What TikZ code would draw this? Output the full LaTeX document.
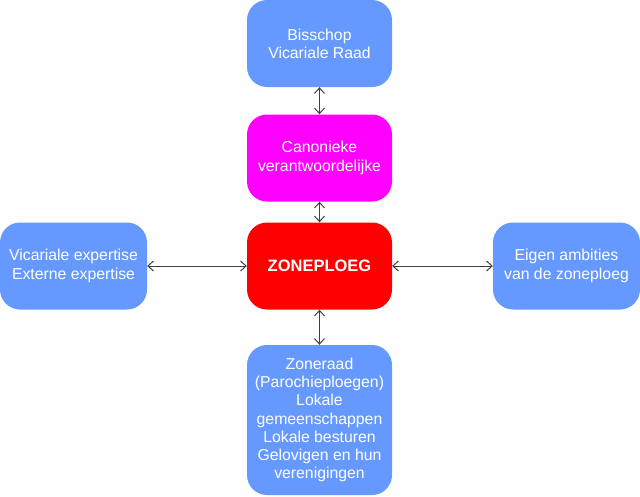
\documentclass[tikz,border=0pt]{standalone}
\usepackage{fontspec}
\setmainfont{Liberation Sans}
\usepackage{xcolor}
\usetikzlibrary{arrows.meta}

\definecolor{zoneblue}{HTML}{6699FF}
\definecolor{zonemagenta}{HTML}{FF00FF}
\definecolor{zonered}{HTML}{FF0000}

\begin{document}
\begin{tikzpicture}[x=1pt, y=-1pt,
    unit/.style={rectangle, rounded corners=20pt, minimum width=145pt, minimum height=87pt, inner sep=2pt, font=\fontsize{15.8}{18.3}\selectfont, text=white, align=center, fill=zoneblue, draw=none},
    arrow/.style={{Straight Barb[length=5.5pt,width=10pt]}-{Straight Barb[length=5.5pt,width=10pt]}, draw=black!75, line width=1pt}]

    \useasboundingbox (0,0) rectangle (640,496);

    % Central team
    \node[unit, fill=zonered, font=\fontsize{16.5}{19}\selectfont\bfseries] (zone) at (319.5,266) {ZONEPLOEG};

    % Upward line
    \node[unit, fill=zonemagenta] (canon) at (319.5,158) {Canonieke\\verantwoordelijke};
    \node[unit] (bisschop) at (319.5,43.5) {Bisschop\\Vicariale Raad};

    % Sides
    \node[unit, minimum width=147pt] (expert) at (73.5,266) {Vicariale expertise\\Externe expertise};
    \node[unit, minimum width=147pt] (ambitie) at (566.5,266) {Eigen ambities\\van de zoneploeg};

    % Below
    \node[unit, minimum height=150pt] (zoneraad) at (319.5,420) {Zoneraad\\(Parochieploegen)\\Lokale\\gemeenschappen\\Lokale besturen\\Gelovigen en hun\\verenigingen};

    % Connections
    \draw[arrow] (bisschop) -- (canon);
    \draw[arrow] (canon) -- (zone);
    \draw[arrow] (expert) -- (zone);
    \draw[arrow] (zone) -- (ambitie);
    \draw[arrow] (zone) -- (zoneraad);
\end{tikzpicture}
\end{document}
